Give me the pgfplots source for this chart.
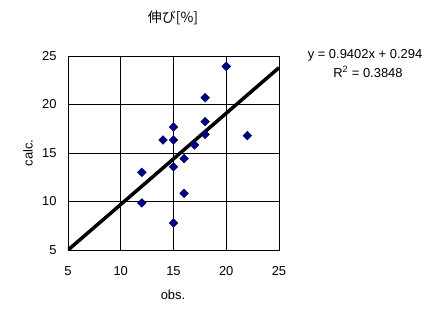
\documentclass[border=0pt]{standalone}
\usepackage{pgfplots}
\pgfplotsset{compat=1.18}
\usepackage{fontspec}
\setmainfont{Liberation Sans}
\newfontfamily\cjk{Noto Sans CJK JP}
\begin{document}
\begin{tikzpicture}
\useasboundingbox (-68bp,-67bp) rectangle (380bp,250bp);
\begin{axis}[
  at={(0,0)}, anchor=south west,
  scale only axis, width=211bp, height=194bp,
  xmin=5, xmax=25, ymin=5, ymax=25,
  xtick={5,10,15,20,25}, ytick={5,10,15,20,25},
  grid=major,
  major grid style={black, line width=0.8bp},
  axis line style={black, line width=0.8bp},
  major tick length=0pt,
  tick label style={font=\fontsize{13}{15}\selectfont},
  /pgf/number format/assume math mode=true,
  xticklabel style={yshift=-13bp},
  yticklabel style={xshift=-8bp},
  clip=true,
]
\addplot[black, line width=3.5bp] coordinates {(5,4.995) (25,23.799)};
\addplot[only marks, mark=square*, mark size=3.1bp,
  mark options={rotate=45, fill=blue!50!black, draw=black!60!blue, line width=0.4bp}]
  coordinates {
  (20,23.93) (18,20.70) (18,18.23) (18,16.92) (22,16.79)
  (15,17.68) (14,16.34) (15,16.34) (17,15.83) (16,14.42)
  (15,13.59) (12,13.01) (16,10.84) (12,9.85) (15,7.79)
  };
\end{axis}
\node[font=\fontsize{14}{16}\cjk] at (105bp,232bp) {伸び[\%]};
\node[font=\fontsize{13}{15}\selectfont] at (105bp,-45bp) {obs.};
\node[font=\fontsize{13}{15}\selectfont, rotate=90] at (-40bp,97bp) {calc.};
\node[font=\fontsize{13}{15}\selectfont] at (297bp,195bp) {y = 0.9402x + 0.294};
\node[font=\fontsize{13}{15}\selectfont] at (300bp,178bp) {R\textsuperscript{2} = 0.3848};
\end{tikzpicture}
\end{document}
